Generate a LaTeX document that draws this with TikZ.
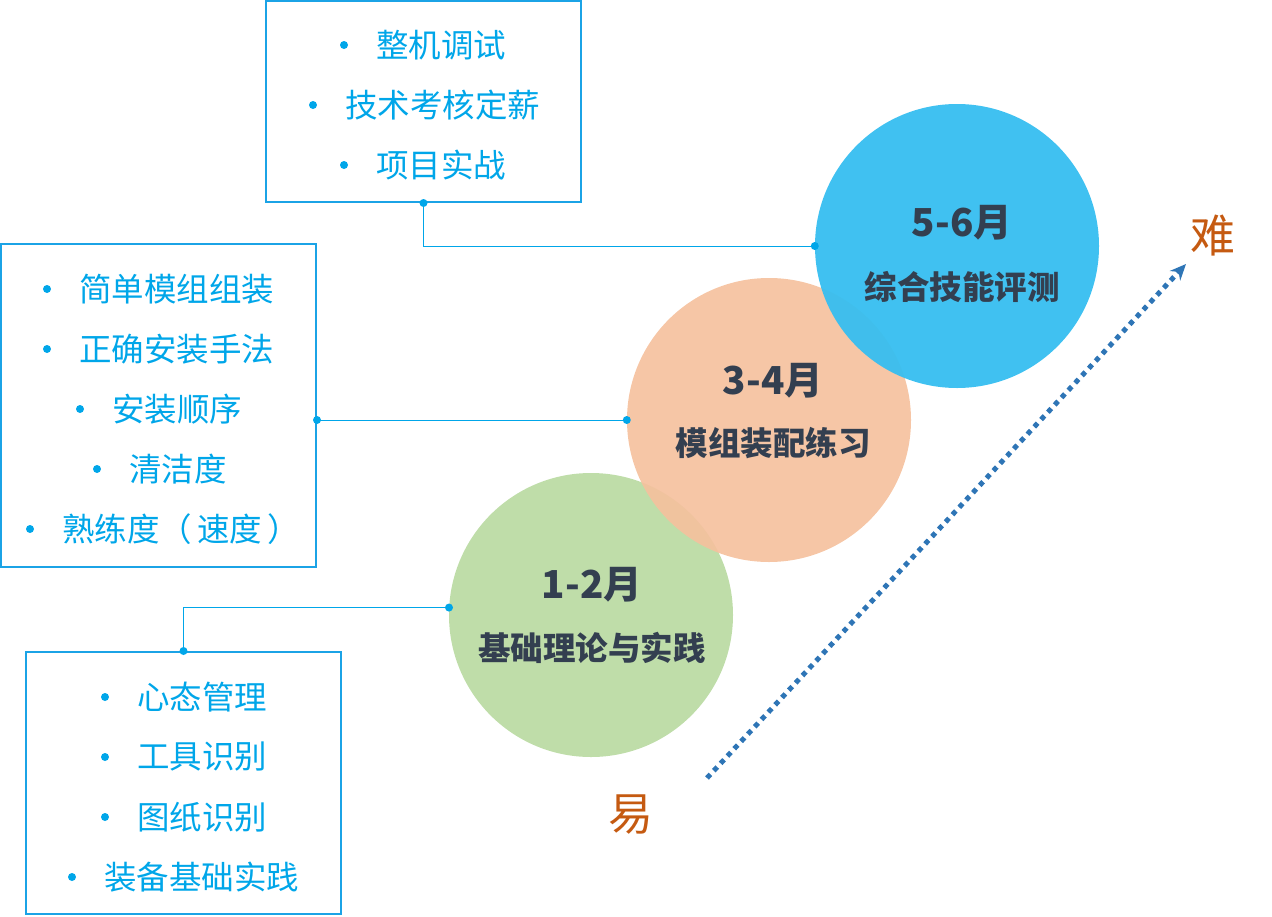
\documentclass[tikz,border=0pt]{standalone}
\usepackage{fontspec}
\setmainfont{Noto Sans CJK SC}
\usetikzlibrary{arrows.meta}
\definecolor{lineblue}{HTML}{1BA3E6}
\definecolor{txtblue}{HTML}{00A6E9}
\definecolor{dark}{HTML}{333F50}
\definecolor{cgreen}{HTML}{BFDDA9}
\definecolor{corange}{HTML}{F5C19E}
\definecolor{cblue}{HTML}{36BEF0}
\definecolor{arrowblue}{HTML}{2E75B6}
\definecolor{rust}{HTML}{C55A11}
\begin{document}
\begin{tikzpicture}[x=1pt,y=-1pt,
  box/.style={draw=lineblue, line width=2pt, inner sep=0pt},
  item/.style={anchor=west, text=txtblue, inner sep=0pt, font=\fontsize{32.5}{38}\selectfont},
  stage/.style={circle, inner sep=0pt, minimum size=284pt},
  ttl/.style={text=dark, inner sep=0pt, font=\bfseries\fontsize{38.5}{42}\selectfont},
  sub/.style={text=dark, inner sep=0pt, font=\bfseries\fontsize{32.5}{38}\selectfont},
  conn/.style={draw=txtblue, line width=1pt},
  dotc/.style={fill=txtblue},
  ease/.style={text=rust, inner sep=0pt, font=\fontsize{45}{50}\selectfont}]
\useasboundingbox (0,0) rectangle (1272,916);
% boxes
\node[box, minimum width=315pt, minimum height=201pt] (b1) at (423.5,101.5) {};
\node[box, minimum width=315pt, minimum height=323pt] (b2) at (158.5,405.5) {};
\node[box, minimum width=315pt, minimum height=262pt] (b3) at (183.5,783) {};
% list items
\foreach \bx/\y/\t [count=\i] in {344/45/整机调试, 313/105/技术考核定薪, 344/165/项目实战}{
  \fill[txtblue] (\bx,\y) circle (4);
  \node[item] (t1\i) at (\bx+32,\y) {\t};
}
\foreach \bx/\y/\t [count=\i] in {47/289/简单模组组装, 47/349/正确安装手法, 80/409/安装顺序, 97/469/清洁度, 30/529/{熟练度（\hspace{5pt}速度\hspace{5pt}）}}{
  \fill[txtblue] (\bx,\y) circle (4);
  \node[item] (t2\i) at (\bx+32,\y) {\t};
}
\foreach \bx/\y/\t [count=\i] in {105/697/心态管理, 105/757/工具识别, 105/817/图纸识别, 72/877/装备基础实践}{
  \fill[txtblue] (\bx,\y) circle (4);
  \node[item] (t3\i) at (\bx+32,\y) {\t};
}
% circles
\node[stage, fill=cgreen] (c1) at (591,615) {};
\node[stage, fill=corange, fill opacity=0.92] (c2) at (769,420) {};
\node[stage, fill=cblue, fill opacity=0.95] (c3) at (957,246) {};
\node[ttl] (c1t) at (592,585) {1-2月};
\node[sub] (c1s) at (592,648) {基础理论与实践};
\node[ttl] (c2t) at (773,381) {3-4月};
\node[sub] (c2s) at (773,443) {模组装配练习};
\node[ttl] (c3t) at (962,223) {5-6月};
\node[sub] (c3s) at (962,287) {综合技能评测};
% connectors
\draw[conn] (b1.south) |- (c3.west);
\fill[dotc] (b1.south) circle (4);
\fill[dotc] (c3.west) circle (4);
\draw[conn] (b2.east |- c2.west) -- (c2.west);
\fill[dotc] (b2.east |- c2.west) circle (4);
\fill[dotc] (c2.west) circle (4);
\draw[conn] (c1.177) -| (b3.north);
\fill[dotc] (c1.177) circle (4);
\fill[dotc] (b3.north) circle (4);
% difficulty arrow
\node[ease] (easy) at (631,815) {易};
\node[ease] (hard) at (1213,236) {难};
\coordinate (a0) at (707,778);
\coordinate (a1) at (1186,264);
\draw[arrowblue, line width=5pt, dash pattern=on 5pt off 5pt, -{Stealth[length=16pt,width=14pt]}] (a0) -- (a1);
\end{tikzpicture}
\end{document}
